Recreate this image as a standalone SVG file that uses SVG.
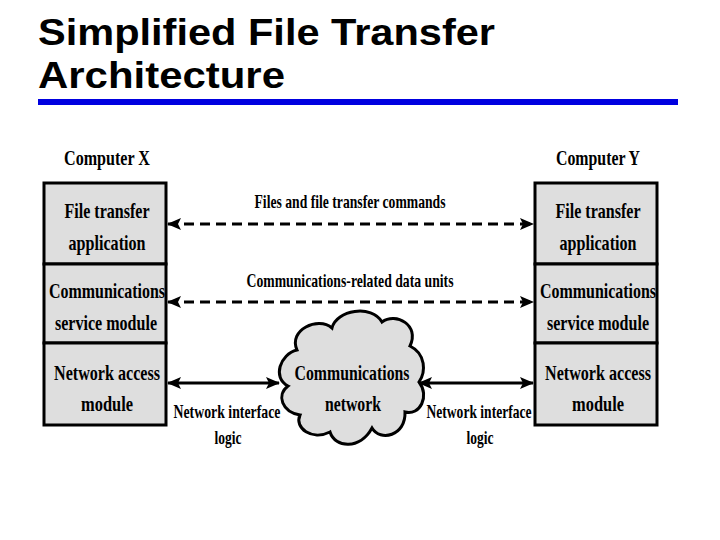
<svg xmlns="http://www.w3.org/2000/svg" width="720" height="540" viewBox="0 0 720 540">
<style>
.title{font-family:"Liberation Sans",Arial,sans-serif;font-weight:bold;font-size:36px;fill:#000}
.t{font-family:"Liberation Serif","Times New Roman",serif;font-weight:bold;font-size:22px;fill:#000;text-anchor:middle}
.s{font-family:"Liberation Serif","Times New Roman",serif;font-weight:bold;font-size:19px;fill:#000;text-anchor:middle}
.box{fill:#dedede;stroke:#000;stroke-width:3}
.dash{stroke:#000;stroke-width:3;stroke-dasharray:10 6;fill:none}
.solid{stroke:#000;stroke-width:3;fill:none}
</style>
<defs>
<marker id="ah" viewBox="0 0 14 12" refX="13" refY="6" markerWidth="14" markerHeight="12" markerUnits="userSpaceOnUse" orient="auto-start-reverse">
<path d="M0,0 L14,6 L0,12 L3,6 Z" fill="#000"/>
</marker>
</defs>
<rect width="720" height="540" fill="#fff"/>
<g id="title">
<text class="title" x="38" y="45" textLength="457" lengthAdjust="spacingAndGlyphs">Simplified File Transfer</text>
<text class="title" x="38" y="88" textLength="247" lengthAdjust="spacingAndGlyphs">Architecture</text>
<rect x="38" y="99" width="640" height="6" fill="#0000e0"/>
</g>
<g id="computerX">
<text class="t" x="107" y="165" textLength="86" lengthAdjust="spacingAndGlyphs">Computer X</text>
<rect class="box" x="44" y="183" width="122" height="81"/>
<rect class="box" x="44" y="264" width="122" height="79"/>
<rect class="box" x="44" y="343" width="122" height="82"/>
<text class="t" x="107" y="218" textLength="85" lengthAdjust="spacingAndGlyphs">File transfer</text>
<text class="t" x="107" y="250" textLength="77" lengthAdjust="spacingAndGlyphs">application</text>
<text class="t" x="107" y="298" textLength="116" lengthAdjust="spacingAndGlyphs">Communications</text>
<text class="t" x="106" y="330" textLength="102" lengthAdjust="spacingAndGlyphs">service module</text>
<text class="t" x="107" y="380" textLength="106" lengthAdjust="spacingAndGlyphs">Network access</text>
<text class="t" x="107" y="411" textLength="52" lengthAdjust="spacingAndGlyphs">module</text>
</g>
<g id="computerY">
<text class="t" x="598" y="165" textLength="84" lengthAdjust="spacingAndGlyphs">Computer Y</text>
<rect class="box" x="535" y="183" width="122" height="81"/>
<rect class="box" x="535" y="264" width="122" height="79"/>
<rect class="box" x="535" y="343" width="122" height="82"/>
<text class="t" x="598" y="218" textLength="85" lengthAdjust="spacingAndGlyphs">File transfer</text>
<text class="t" x="598" y="250" textLength="77" lengthAdjust="spacingAndGlyphs">application</text>
<text class="t" x="598" y="298" textLength="116" lengthAdjust="spacingAndGlyphs">Communications</text>
<text class="t" x="598" y="330" textLength="102" lengthAdjust="spacingAndGlyphs">service module</text>
<text class="t" x="598" y="380" textLength="106" lengthAdjust="spacingAndGlyphs">Network access</text>
<text class="t" x="598" y="411" textLength="52" lengthAdjust="spacingAndGlyphs">module</text>
</g>
<g id="network">
<path d="M297,350 C288,330 318,316 332,328 C336,310 372,304 382,322 C396,312 420,325 410,346 C426,354 426,372 419,382 C430,396 420,416 405,412 C406,436 380,442 372,428 C360,450 335,448 330,432 C312,441 294,428 300,415 C282,412 276,395 288,386 C272,378 280,354 297,350 Z" fill="#dedede" stroke="#000" stroke-width="3"/>
<text class="t" x="352" y="380" textLength="115" lengthAdjust="spacingAndGlyphs">Communications</text>
<text class="t" x="353" y="411" textLength="56" lengthAdjust="spacingAndGlyphs">network</text>
</g>
<g id="connectors">
<line class="dash" x1="168" y1="224" x2="533" y2="224" marker-start="url(#ah)" marker-end="url(#ah)"/>
<line class="dash" x1="168" y1="302" x2="533" y2="302" marker-start="url(#ah)" marker-end="url(#ah)"/>
<line class="solid" x1="168" y1="383" x2="279" y2="383" marker-start="url(#ah)" marker-end="url(#ah)"/>
<line class="solid" x1="419" y1="383" x2="533" y2="383" marker-start="url(#ah)" marker-end="url(#ah)"/>
<text class="s" x="350" y="208" textLength="191" lengthAdjust="spacingAndGlyphs">Files and file transfer commands</text>
<text class="s" x="350" y="287" textLength="207" lengthAdjust="spacingAndGlyphs">Communications-related data units</text>
<text class="s" x="227" y="418" textLength="107" lengthAdjust="spacingAndGlyphs">Network interface</text>
<text class="s" x="228" y="444" textLength="27" lengthAdjust="spacingAndGlyphs">logic</text>
<text class="s" x="479" y="418" textLength="105" lengthAdjust="spacingAndGlyphs">Network interface</text>
<text class="s" x="480" y="444" textLength="27" lengthAdjust="spacingAndGlyphs">logic</text>
</g>
</svg>
